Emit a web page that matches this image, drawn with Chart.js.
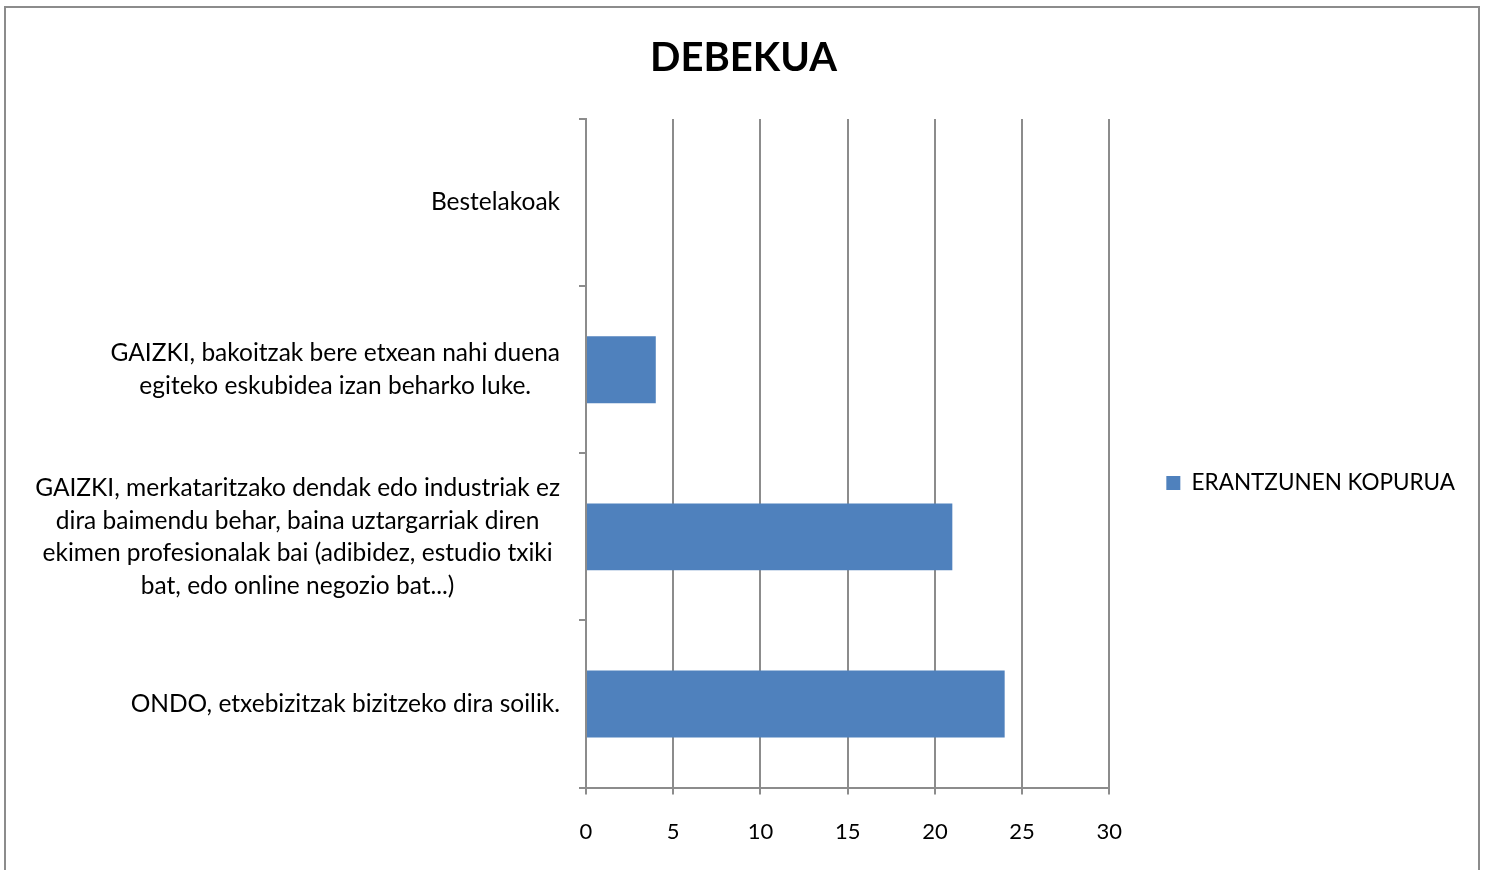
<!DOCTYPE html>
<html>
<head>
<meta charset="utf-8">
<script src="https://cdn.jsdelivr.net/npm/chart.js@4"></script>
<style>
  html, body { margin: 0; padding: 0; background: #fff; overflow: hidden; }
  #wrap { position: relative; width: 1487px; height: 870px; }
  #frame { position: absolute; left: 4px; top: 6px; width: 1472px; height: 900px;
           border: 2px solid #8c8c8c; pointer-events: none; }
</style>
</head>
<body>
<div id="wrap">
  <canvas id="debekuaChart" width="1487" height="870"></canvas>
  <div id="frame"></div>
</div>
<script>
const categories = [
    ['Bestelakoak'],
    ['GAIZKI, bakoitzak bere etxean nahi duena', 'egiteko eskubidea izan beharko luke.'],
    ['GAIZKI, merkataritzako dendak edo industriak ez', 'dira baimendu behar, baina uztargarriak diren',
     'ekimen profesionalak bai (adibidez, estudio txiki', 'bat, edo online negozio bat...)'],
    ['ONDO, etxebizitzak bizitzeko dira soilik.']
];
const answers = [0, 4, 21, 24];
const xTicks = [0, 5, 10, 15, 20, 25, 30];

const FONT = 'Lato, Carlito, Calibri, sans-serif';
const GRID = '#8c8c8c';

// category labels: each block centred on itself, right edge next to the axis
const categoryLabels = {
    id: 'categoryLabels',
    afterDraw(chart) {
        const ctx = chart.ctx;
        const yScale = chart.scales.y;
        const right = chart.chartArea.left - 26;
        const lineH = 32.5;
        ctx.save();
        ctx.font = '24.5px ' + FONT;
        ctx.fillStyle = '#000';
        ctx.textAlign = 'center';
        ctx.textBaseline = 'middle';
        categories.forEach((lines, i) => {
            const w = Math.max(...lines.map(l => ctx.measureText(l).width));
            const cx = right - w / 2;
            const cy = yScale.getPixelForValue(i);
            const top = cy - (lines.length - 1) * lineH / 2;
            lines.forEach((l, j) => ctx.fillText(l, cx, top + j * lineH));
        });
        ctx.restore();
    }
};

const ctx = document.getElementById('debekuaChart').getContext('2d');
const chart = new Chart(ctx, {
    type: 'bar',
    data: {
        labels: categories.map(c => c.join(' ')),
        datasets: [{
            label: 'ERANTZUNEN KOPURUA',
            data: answers,
            backgroundColor: '#4f81bd',
            borderWidth: 0,
            barPercentage: 0.4,
            categoryPercentage: 1
        }]
    },
    options: {
        indexAxis: 'y',
        responsive: false,
        animation: false,
        layout: { padding: { top: 10, left: 22, right: 22, bottom: 1 } },
        scales: {
            x: {
                min: 0,
                max: 30,
                afterBuildTicks: (scale) => { scale.ticks = xTicks.map(v => ({ value: v })); },
                grid: { color: GRID, lineWidth: 2, tickLength: 7 },
                border: { color: GRID, width: 2 },
                ticks: { color: '#000', padding: 24, font: { family: FONT, size: 22 } }
            },
            y: {
                afterFit: (scale) => { scale.width = 564; },
                grid: { drawOnChartArea: false, color: GRID, lineWidth: 2, tickLength: 7 },
                border: { color: GRID, width: 2 },
                ticks: { display: false }
            }
        },
        plugins: {
            title: {
                display: true,
                text: 'DEBEKUA',
                color: '#000',
                font: { family: FONT, size: 40, weight: 'bold' },
                padding: { top: 24, bottom: 37 }
            },
            legend: {
                position: 'right',
                title: {
                    display: true,
                    text: ' ',
                    font: { family: FONT, size: 22.5 },
                    padding: { top: 0, bottom: 60 }
                },
                labels: {
                    color: '#000',
                    boxWidth: 14,
                    boxHeight: 14,
                    padding: 57,
                    font: { family: FONT, size: 22.5 }
                }
            },
            tooltip: { enabled: false }
        }
    },
    plugins: [categoryLabels]
});
</script>
</body>
</html>
